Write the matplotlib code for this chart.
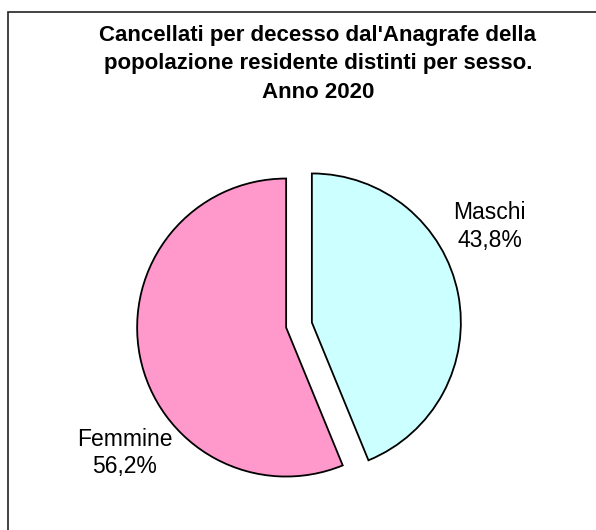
import matplotlib
matplotlib.use("Agg")
import matplotlib.pyplot as plt
from matplotlib.patches import Rectangle
import numpy as np

# data
labels = ["Maschi", "Femmine"]
shares = [43.8, 56.2]
colors = ["#CCFFFF", "#FF99CC"]
title_lines = ["Cancellati per decesso dal'Anagrafe della",
               "popolazione residente distinti per sesso.",
               "Anno 2020"]

plt.rcParams['font.family'] = ['Liberation Sans', 'DejaVu Sans']

W, H = 596, 530
fig = plt.figure(figsize=(W / 100, H / 100), dpi=100)

# chart frame (only top and left edges are inside the picture)
fig.patches.append(Rectangle((8 / W, -0.1), 1.2, 1.1 - 12 / H,
                             transform=fig.transFigure, fill=False,
                             edgecolor="#222222", linewidth=1.2))

# title, one line every 29 px
for i, line in enumerate(title_lines):
    fig.text(318 / W, 1 - (35 + 29 * i) / H, line, ha="center", va="center",
             fontsize=16, fontweight="bold")

# pie centre at (299, 325) px, radius 149 px
r_px = 149
lim = 1.2
ax = fig.add_axes([(299 - lim * r_px) / W, (H - 325 - lim * r_px) / H,
                   2 * lim * r_px / W, 2 * lim * r_px / H])
wedges, _ = ax.pie(shares, colors=colors, startangle=90, counterclock=False,
                   explode=[0.088, 0.088],
                   wedgeprops=dict(edgecolor="black", linewidth=1.3))
ax.set_xlim(-lim, lim)
ax.set_ylim(-lim, lim)
ax.set_aspect("equal")

# label positions (data coords, radius = 1)
label_pos = [(1.28, 0.66), (-1.17, -0.86)]
for (x, y), lab, val in zip(label_pos, labels, shares):
    ax.text(x, y, f"{lab}\n" + f"{val:.1f}".replace(".", ",") + "%",
            ha="center", va="center", fontsize=16.5, linespacing=1.25)

fig.savefig("out.png", dpi=100)
